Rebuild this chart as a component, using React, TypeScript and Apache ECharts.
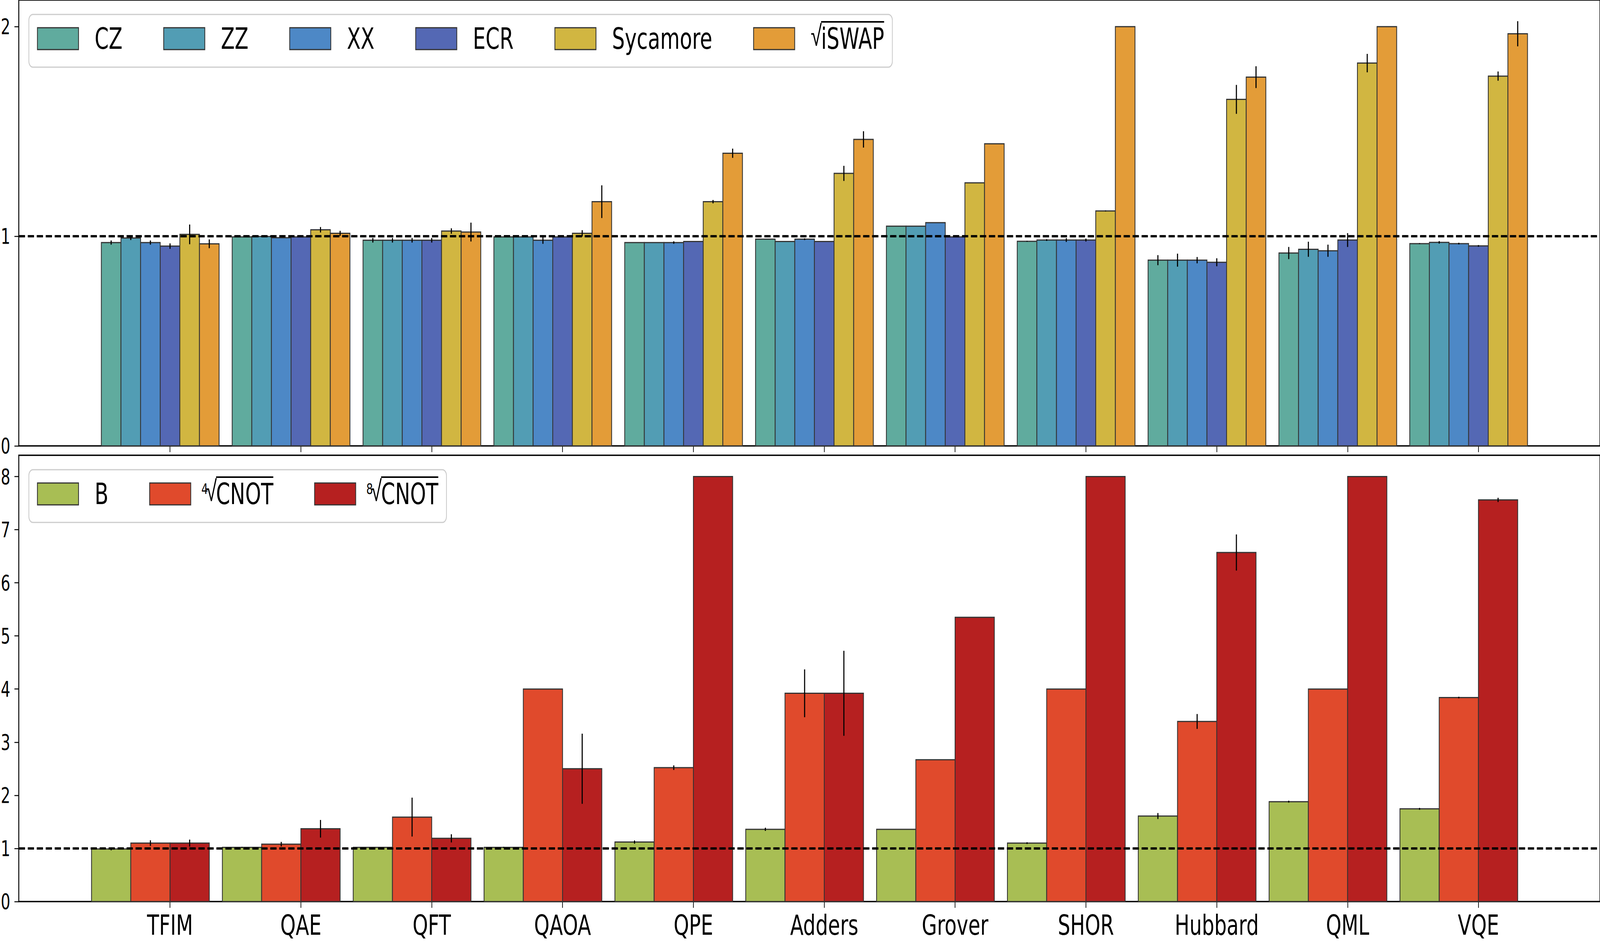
import React, { useEffect, useRef } from 'react';
import * as echarts from 'echarts';

const categories = ['TFIM', 'QAE', 'QFT', 'QAOA', 'QPE', 'Adders', 'Grover', 'SHOR', 'Hubbard', 'QML', 'VQE'];
const categoryTicks = categories.map((_, i) => i);
const topTicks = [0, 1, 2];
const bottomTicks = [0, 1, 2, 3, 4, 5, 6, 7, 8];

// Top panel series
const topNames = ['CZ', 'ZZ', 'XX', 'ECR', 'Sycamore', '√iSWAP'];
const czValues = [0.970, 0.997, 0.981, 0.997, 0.970, 0.986, 1.048, 0.976, 0.886, 0.920, 0.965];
const czErrors = [0.010, 0, 0.011, 0, 0, 0, 0, 0.002, 0.024, 0.029, 0.002];
const zzValues = [0.992, 0.999, 0.981, 0.997, 0.970, 0.975, 1.048, 0.982, 0.886, 0.938, 0.971];
const zzErrors = [0.010, 0, 0.011, 0, 0, 0, 0, 0.004, 0.031, 0.036, 0.006];
const xxValues = [0.970, 0.993, 0.981, 0.981, 0.970, 0.986, 1.065, 0.982, 0.886, 0.931, 0.965];
const xxErrors = [0.010, 0, 0.011, 0.017, 0.006, 0.004, 0, 0.009, 0.015, 0.029, 0.004];
const ecrValues = [0.953, 0.997, 0.981, 0.997, 0.975, 0.975, 0.997, 0.982, 0.876, 0.982, 0.954];
const ecrErrors = [0.013, 0, 0.011, 0, 0, 0, 0, 0.007, 0.019, 0.033, 0.004];
const sycValues = [1.009, 1.031, 1.025, 1.014, 1.165, 1.300, 1.255, 1.121, 1.653, 1.826, 1.764];
const sycErrors = [0.047, 0.013, 0.013, 0.015, 0.008, 0.036, 0, 0.002, 0.069, 0.044, 0.022];
const iswapValues = [0.964, 1.014, 1.020, 1.165, 1.396, 1.462, 1.441, 2.0, 1.759, 2.0, 1.966];
const iswapErrors = [0.021, 0.012, 0.045, 0.078, 0.022, 0.039, 0, 0, 0.052, 0, 0.060];

// Bottom panel series
const bottomNames = ['B', '⁴√CNOT', '⁸√CNOT'];
const bValues = [0.99, 1.02, 1.02, 1.02, 1.12, 1.36, 1.36, 1.10, 1.61, 1.88, 1.745];
const bErrors = [0.025, 0.01, 0, 0.01, 0.03, 0.03, 0, 0.016, 0.056, 0.018, 0.018];
const cnot4Values = [1.10, 1.08, 1.59, 4.0, 2.52, 3.92, 2.67, 4.0, 3.39, 4.0, 3.84];
const cnot4Errors = [0.053, 0.043, 0.366, 0, 0.043, 0.45, 0, 0, 0.14, 0, 0.015];
const cnot8Values = [1.10, 1.37, 1.19, 2.50, 8.0, 3.92, 5.35, 8.0, 6.57, 8.0, 7.56];
const cnot8Errors = [0.066, 0.166, 0.077, 0.66, 0, 0.80, 0, 0, 0.34, 0, 0.04];

const referenceLevel = 1;

const topColors = ['#60AB9E', '#529DB4', '#4D88C6', '#5468B4', '#D1B641', '#E39C38'];
const bottomColors = ['#A8BE54', '#E04A2C', '#B62020'];

const FONT = 'DejaVu Sans';
const W = 5878;
const H = 2410;
const X_MIN = -1.156;
const X_MAX = 10.929;
const TOP_MAX = 2.127;
const BOTTOM_MAX = 8.4;

const OVERLINE =
  'data:image/svg+xml;charset=utf-8,' +
  encodeURIComponent("<svg xmlns='http://www.w3.org/2000/svg'><rect x='0' y='0' width='100%' height='4' fill='#000'/></svg>");

function barSeries(
  name: string,
  color: string,
  values: number[],
  errors: number[],
  slot: number,
  centerSlot: number,
  slotWidth: number,
  gridIndex: number
) {
  return {
    type: 'custom',
    name,
    xAxisIndex: gridIndex,
    yAxisIndex: gridIndex,
    itemStyle: { color, borderColor: '#333', borderWidth: 3 },
    encode: { x: 0, y: 1 },
    data: values.map((v, i) => [i, v, errors[i]]),
    renderItem: (params: any, api: any) => {
      const c = api.value(0) as number;
      const v = api.value(1) as number;
      const e = api.value(2) as number;
      const xc = c + (slot - centerSlot) * slotWidth;
      const tl = api.coord([xc - slotWidth / 2, v]);
      const br = api.coord([xc + slotWidth / 2, 0]);
      const children: any[] = [
        {
          type: 'rect',
          shape: { x: tl[0], y: tl[1], width: br[0] - tl[0], height: br[1] - tl[1] },
          style: { fill: color, stroke: '#333', lineWidth: 3 },
        },
      ];
      if (e > 0) {
        const et = api.coord([xc, v + e]);
        const eb = api.coord([xc, v - e]);
        children.push({
          type: 'line',
          shape: { x1: et[0], y1: et[1], x2: eb[0], y2: eb[1] },
          style: { stroke: '#000', lineWidth: 4 },
        });
      }
      return { type: 'group', children };
    },
  };
}

function refLine(gridIndex: number) {
  return {
    type: 'line',
    xAxisIndex: gridIndex,
    yAxisIndex: gridIndex,
    data: [],
    z: 10,
    silent: true,
    markLine: {
      silent: true,
      symbol: ['none', 'none'],
      label: { show: false },
      lineStyle: { color: '#000', width: 6, type: [23, 10] },
      data: [{ yAxis: referenceLevel }],
    },
  };
}

const rich = {
  p: { fontFamily: FONT, fontSize: 74, color: '#000', padding: [8, 0, 8, 0] },
  r: { fontFamily: 'Liberation Sans', fontSize: 74, color: '#000', padding: [0, 0, 16, 0], width: 38 },
  o: { fontFamily: FONT, fontSize: 74, color: '#000', padding: [8, 0, 8, 0], backgroundColor: { image: OVERLINE } },
  i: { fontFamily: FONT, fontSize: 38, color: '#000', padding: [0, 0, 25, 0], width: 16 },
};

function legendFormatter(name: string) {
  if (name === '√iSWAP') return '{r|√}{o|iSWAP}';
  if (name === '⁴√CNOT') return '{i|4}{r|√}{o|CNOT}';
  if (name === '⁸√CNOT') return '{i|8}{r|√}{o|CNOT}';
  return '{p|' + name + '}';
}

function legendItems(names: string[]) {
  return names.map((name) =>
    name.startsWith('⁴') || name.startsWith('⁸')
      ? { name, textStyle: { padding: [0, 0, 0, 34] } }
      : { name }
  );
}

function legend(data: string[], top: number) {
  return {
    data: legendItems(data),
    left: 106,
    top,
    orient: 'horizontal',
    selectedMode: false,
    itemWidth: 151,
    itemHeight: 56,
    itemGap: 150,
    icon: 'rect',
    padding: [17, 30, 28, 30],
    backgroundColor: 'rgba(255,255,255,0.8)',
    borderColor: '#cccccc',
    borderWidth: 3,
    borderRadius: 15,
    itemStyle: { borderColor: '#333', borderWidth: 3 },
    formatter: legendFormatter,
    textStyle: { fontFamily: FONT, fontSize: 74, color: '#000', padding: [0, 0, 0, 54], rich },
  };
}

function xAxis(gridIndex: number) {
  return {
    type: 'value',
    gridIndex,
    min: X_MIN,
    max: X_MAX,
    position: 'bottom',
    axisLine: { show: false, onZero: false },
    axisTick: { show: true, length: 16, lineStyle: { color: '#000', width: 2.5 }, customValues: categoryTicks },
    axisLabel: {
      show: gridIndex === 1,
      customValues: categoryTicks,
      formatter: (v: number) => categories[Math.round(v)] ?? '',
      fontFamily: FONT,
      fontSize: 72,
      color: '#000',
      margin: 24,
    },
    splitLine: { show: false },
  };
}

function yAxis(gridIndex: number, max: number, ticks: number[]) {
  return {
    type: 'value',
    gridIndex,
    min: 0,
    max,
    position: 'left',
    axisLine: { show: false, onZero: false },
    axisTick: { show: true, length: 16, lineStyle: { color: '#000', width: 2.5 }, customValues: ticks },
    axisLabel: { customValues: ticks, fontFamily: FONT, fontSize: 55, color: '#000', margin: 31 },
    splitLine: { show: false },
  };
}

export default function App() {
  const ref = useRef<HTMLDivElement>(null);
  const vw = typeof window !== 'undefined' && window.innerWidth ? window.innerWidth : W;
  const vh = typeof window !== 'undefined' && window.innerHeight ? window.innerHeight : H;
  const sx = vw / W;
  const sy = vh / H;
  useEffect(() => {
    if (!ref.current) return;
    const chart = echarts.init(ref.current, undefined, { renderer: 'svg', width: W, height: H });
    const topData = [czValues, zzValues, xxValues, ecrValues, sycValues, iswapValues];
    const topErr = [czErrors, zzErrors, xxErrors, ecrErrors, sycErrors, iswapErrors];
    const botData = [bValues, cnot4Values, cnot8Values];
    const botErr = [bErrors, cnot4Errors, cnot8Errors];
    const series: any[] = [];
    topNames.forEach((n, k) => series.push(barSeries(n, topColors[k], topData[k], topErr[k], k, 3, 0.15, 0)));
    bottomNames.forEach((n, k) => series.push(barSeries(n, bottomColors[k], botData[k], botErr[k], k, 1.5, 0.3, 1)));
    series.push(refLine(0));
    series.push(refLine(1));
    const option: any = {
      animation: false,
      backgroundColor: '#ffffff',
      textStyle: { fontFamily: FONT },
      grid: [
        { left: 68, top: 0, width: 5813, height: 1142, show: true, borderColor: '#000', borderWidth: 3.5, backgroundColor: 'transparent' },
        { left: 68, top: 1166, width: 5813, height: 1143, show: true, borderColor: '#000', borderWidth: 3.5, backgroundColor: 'transparent' },
      ],
      xAxis: [xAxis(0), xAxis(1)],
      yAxis: [yAxis(0, TOP_MAX, topTicks), yAxis(1, BOTTOM_MAX, bottomTicks)],
      legend: [legend(topNames, 37), legend(bottomNames, 1203)],
      series,
    };
    chart.setOption(option);
    return () => chart.dispose();
  }, []);
  return (
    <div
      style={{
        position: 'fixed',
        left: 0,
        top: 0,
        width: vw,
        height: vh,
        overflow: 'hidden',
        background: '#fff',
      }}
    >
      <div
        ref={ref}
        style={{ width: W, height: H, transform: `scale(${sx}, ${sy})`, transformOrigin: '0 0' }}
      />
    </div>
  );
}
